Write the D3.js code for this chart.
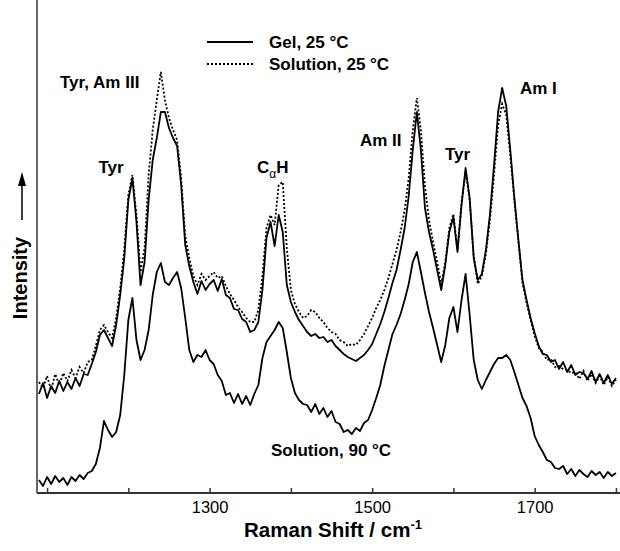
<!DOCTYPE html>
<html><head><meta charset="utf-8">
<script src="https://cdn.jsdelivr.net/npm/d3@7/dist/d3.min.js"></script>
<style>body{margin:0;background:#fff}svg{display:block;font-family:"Liberation Sans",Arial,sans-serif}</style>
</head><body><svg id="c" width="620" height="551"></svg>
<script>
// Raman shift (cm^-1)
const shift = [1090,1095,1100,1105,1110,1115,1120,1125,1130,1135,1140,1145,1150,1155,1160,1165,1170,1175,1180,1185,1190,1195,1200,1205,1210,1215,1220,1225,1230,1235,1240,1245,1250,1255,1260,1265,1270,1275,1280,1285,1290,1295,1300,1305,1310,1315,1320,1325,1330,1335,1340,1345,1350,1355,1360,1365,1370,1375,1380,1385,1390,1395,1400,1405,1410,1415,1420,1425,1430,1435,1440,1445,1450,1455,1460,1465,1470,1475,1480,1485,1490,1495,1500,1505,1510,1515,1520,1525,1530,1535,1540,1545,1550,1555,1560,1565,1570,1575,1580,1585,1590,1595,1600,1605,1610,1615,1620,1625,1630,1635,1640,1645,1650,1655,1660,1665,1670,1675,1680,1685,1690,1695,1700,1705,1710,1715,1720,1725,1730,1735,1740,1745,1750,1755,1760,1765,1770,1775,1780,1785,1790,1795,1800];
// Intensity (a.u., offset spectra)
const gel25 = [106,117,102,114,107,119,109,118,111,122,114,126,125,136,148,165,170,162,154,175,205,242,300,322,278,215,238,300,340,362,388,388,372,362,354,315,255,234,218,206,219,210,216,220,209,221,205,202,191,190,181,178,168,170,178,210,262,278,254,285,268,215,198,188,180,174,168,164,166,162,163,158,160,154,150,146,143,141,139,142,145,150,156,166,176,188,202,217,230,250,272,304,350,388,350,292,268,250,230,210,235,268,283,248,295,332,302,242,220,226,250,286,335,388,412,394,350,302,260,220,200,182,167,154,146,145,138,140,131,138,128,135,125,128,127,121,129,118,126,117,125,116,122];
const sol25 = [118,112,124,110,126,115,127,119,130,122,133,127,138,140,154,170,175,168,162,182,212,250,305,325,285,228,252,325,370,400,428,400,382,370,360,322,264,242,224,215,226,220,224,228,222,224,214,206,200,193,188,182,178,178,190,224,272,285,275,315,318,252,210,196,188,182,184,190,188,182,178,172,168,166,160,158,154,156,155,160,166,174,182,192,200,210,222,236,250,268,290,322,370,402,370,314,280,258,238,216,238,272,286,250,298,328,300,244,216,224,246,280,325,375,396,385,345,300,258,217,197,180,164,152,148,140,141,133,134,131,130,127,128,121,129,119,126,117,124,115,123,114,120];
const sol90 = [20,14,23,16,24,18,22,15,23,19,25,21,27,29,36,52,79,70,63,68,85,125,180,202,160,140,150,170,205,228,237,218,215,222,228,212,182,150,138,145,143,150,140,136,125,119,105,107,97,106,96,104,95,106,115,142,158,164,170,178,172,148,122,107,100,96,95,88,96,86,92,83,89,78,76,68,70,66,72,69,77,80,90,102,115,134,150,166,175,186,200,216,238,248,228,207,188,172,155,138,155,182,193,168,200,226,185,140,120,111,120,128,136,142,142,145,140,128,115,102,94,82,64,55,48,40,38,32,31,34,26,31,24,30,26,23,29,25,28,22,28,24,27];
const tickValues = [1100,1200,1300,1400,1500,1600,1700,1800];
const tickLabels = ["","","1300","","1500","","1700",""];
const seriesNames = ["Gel, 25 °C","Solution, 25 °C"];
const peakLabels = ["Tyr","Tyr, Am III","CαH","Am II","Tyr","Am I","Solution, 90 °C"];

const svg = d3.select("#c");
const x = d3.scaleLinear().domain([1087.6, 1805]).range([37, 620]);
const y = d3.scaleLinear().domain([7, 500]).range([493, 0]);

function series(vals){ return shift.map((s,i)=>[s, vals[i]]); }
const line = d3.line().x(d=>x(d[0])).y(d=>y(d[1]));

// curves
svg.append("path").attr("d", line(series(sol90))).attr("fill","none").attr("stroke","#000").attr("stroke-width",1.8).attr("stroke-linejoin","round");
svg.append("path").attr("d", line(series(gel25))).attr("fill","none").attr("stroke","#000").attr("stroke-width",1.8).attr("stroke-linejoin","round");
svg.append("path").attr("d", line(series(sol25))).attr("fill","none").attr("stroke","#000").attr("stroke-width",1.8).attr("stroke-dasharray","2,2");

// axes
const xAxis = d3.axisBottom(x).tickValues(tickValues).tickSize(-5).tickPadding(8).tickFormat((d,i)=>tickLabels[i]);
const gx = svg.append("g").attr("transform","translate(0,493)").call(xAxis);
gx.select(".domain").attr("stroke","#333").attr("stroke-width",2).attr("d","M37,0H620");
gx.selectAll(".tick line").attr("stroke","#333").attr("stroke-width",1.5);
gx.selectAll(".tick text").attr("font-size",16.5).attr("fill","#000").attr("font-family","Liberation Sans, Arial, sans-serif");
svg.append("line").attr("x1",37).attr("x2",37).attr("y1",0).attr("y2",493).attr("stroke","#333").attr("stroke-width",1.5);

// axis titles
const xt = svg.append("text").attr("x",333).attr("y",537).attr("text-anchor","middle").attr("font-size",20.5).attr("font-weight","bold");
xt.append("tspan").text("Raman Shift / cm");
xt.append("tspan").attr("dy",-8).attr("font-size",13).text("-1");
svg.append("text").attr("transform","translate(27,278) rotate(-90)").attr("text-anchor","middle").attr("font-size",20).attr("font-weight","bold").text("Intensity");
svg.append("line").attr("x1",22).attr("x2",22).attr("y1",220).attr("y2",184).attr("stroke","#000").attr("stroke-width",1.5);
svg.append("path").attr("d","M22,172L18,186L26,186Z").attr("fill","#000");

// legend
const lg = svg.append("g");
lg.append("line").attr("x1",207).attr("x2",253).attr("y1",42).attr("y2",42).attr("stroke","#000").attr("stroke-width",1.8);
lg.append("line").attr("x1",207).attr("x2",253).attr("y1",64).attr("y2",64).attr("stroke","#000").attr("stroke-width",1.8).attr("stroke-dasharray","2,2");
lg.append("text").attr("x",269).attr("y",48).attr("font-size",17).attr("font-weight","bold").text(seriesNames[0]);
lg.append("text").attr("x",269).attr("y",70).attr("font-size",17).attr("font-weight","bold").text(seriesNames[1]);

// peak annotations
const ann = svg.append("g").attr("font-size",17).attr("font-weight","bold");
ann.append("text").attr("x",111).attr("y",173).attr("text-anchor","middle").text(peakLabels[0]);
ann.append("text").attr("x",60).attr("y",88).text(peakLabels[1]);
const ca = ann.append("text").attr("x",257).attr("y",173);
ca.append("tspan").text("C");
ca.append("tspan").attr("dy",5).attr("font-size",12).attr("font-weight","normal").text("α");
ca.append("tspan").attr("dy",-5).text("H");
ann.append("text").attr("x",360).attr("y",146).text(peakLabels[3]);
ann.append("text").attr("x",445).attr("y",160).text(peakLabels[4]);
ann.append("text").attr("x",520).attr("y",94).text(peakLabels[5]);
ann.append("text").attr("x",271).attr("y",456).text(peakLabels[6]);
</script></body></html>
